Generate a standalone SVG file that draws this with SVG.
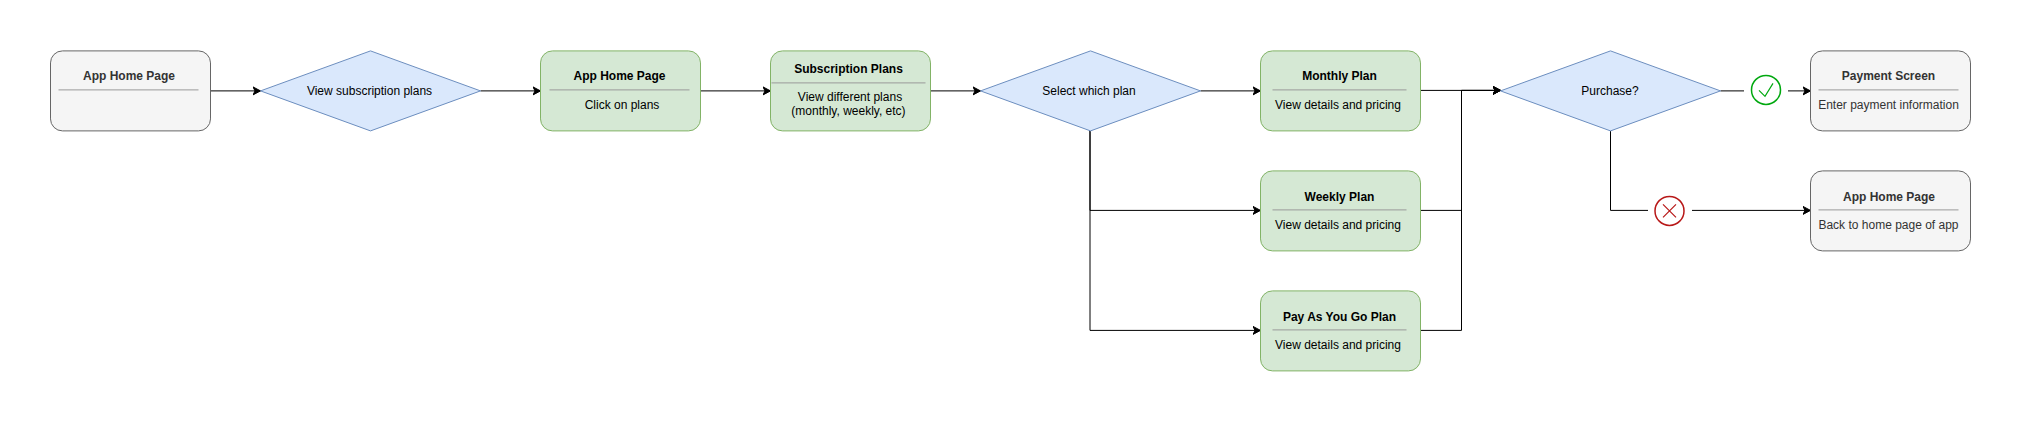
<svg xmlns="http://www.w3.org/2000/svg" width="2021" height="421" viewBox="0 0 2021 421">
<defs>
<marker id="arr" markerUnits="userSpaceOnUse" markerWidth="10" markerHeight="10" refX="8" refY="4.5" orient="auto"><path d="M0.5 0.5 L8 4.5 L0.5 8.5 L2.5 4.5 Z" fill="#000" stroke="#000" stroke-width="1"/></marker>
</defs>
<style>
text{font-family:"Liberation Sans",Arial,sans-serif;font-size:12px;text-anchor:middle;fill:#000}
.t{font-weight:bold}
.grey rect{fill:#f5f5f5;stroke:#666}
.grey text{fill:#333}
.green rect{fill:#d5e8d4;stroke:#82b366}
.dia polygon{fill:#dae8fc;stroke:#6c8ebf}
.sep{stroke:#999;fill:none}
.conn path{fill:none;stroke:#000;stroke-width:1}
.ok{fill:#fff;stroke:#00a80f;stroke-width:1.5}
.no{fill:#fff;stroke:#b81818;stroke-width:1.5}
</style>
<rect width="2021" height="421" fill="#fff"/>
<g transform="translate(0,0.4)">
<g class="conn" id="connectors">
<path d="M210.5 90.5H260.5" marker-end="url(#arr)"/>
<path d="M480.5 90.5H540.5" marker-end="url(#arr)"/>
<path d="M700.5 90.5H770.5" marker-end="url(#arr)"/>
<path d="M930.5 90.5H980.5" marker-end="url(#arr)"/>
<path d="M1200.5 90.5H1260.5" marker-end="url(#arr)"/>
<path d="M1090 130.5V210H1260.5" marker-end="url(#arr)"/>
<path d="M1090 130.5V330H1260.5" marker-end="url(#arr)"/>
<path d="M1420.5 90H1500.5" marker-end="url(#arr)"/>
<path d="M1420.5 210H1461.5V90H1500.5" marker-end="url(#arr)"/>
<path d="M1420.5 330H1461.5V90H1500.5" marker-end="url(#arr)"/>
<path d="M1720.5 90.5H1744"/>
<path d="M1788 90.5H1810.5" marker-end="url(#arr)"/>
<path d="M1610.5 130.5V210H1648"/>
<path d="M1692 210H1810.5" marker-end="url(#arr)"/>
</g>
<g id="n1" class="grey"><rect x="50.5" y="50.5" width="160" height="80" rx="12"/><path class="sep" d="M58.5 89.5H198.5"/><text class="t" x="129" y="80">App Home Page</text></g>
<g id="d1" class="dia"><polygon points="260.5,90.5 370.5,50.5 480.5,90.5 370.5,130.5"/><text x="369.5" y="94.5">View subscription plans</text></g>
<g id="n2" class="green"><rect x="540.5" y="50.5" width="160" height="80" rx="12"/><path class="sep" d="M549.5 89.5H689.5"/><text class="t" x="619.5" y="80">App Home Page</text><text x="622" y="108.5">Click on plans</text></g>
<g id="n3" class="green"><rect x="770.5" y="50.5" width="160" height="80" rx="12"/><path class="sep" d="M771.5 82.5H925.5"/><text class="t" x="848.5" y="73">Subscription Plans</text><text x="850" y="101">View different plans</text><text x="848.5" y="115">(monthly, weekly, etc)</text></g>
<g id="d2" class="dia"><polygon points="980.5,90.5 1090.5,50.5 1200.5,90.5 1090.5,130.5"/><text x="1089" y="94.5">Select which plan</text></g>
<g id="n4" class="green"><rect x="1260.5" y="50.5" width="160" height="80" rx="12"/><path class="sep" d="M1272.5 89.5H1406.5"/><text class="t" x="1339.5" y="80">Monthly Plan</text><text x="1338" y="108.5">View details and pricing</text></g>
<g id="n5" class="green"><rect x="1260.5" y="170.5" width="160" height="80" rx="12"/><path class="sep" d="M1272.5 209.5H1406.5"/><text class="t" x="1339.5" y="200.5">Weekly Plan</text><text x="1338" y="228.5">View details and pricing</text></g>
<g id="n6" class="green"><rect x="1260.5" y="290.5" width="160" height="80" rx="12"/><path class="sep" d="M1272.5 329.5H1406.5"/><text class="t" x="1339.5" y="320.5">Pay As You Go Plan</text><text x="1338" y="348.5">View details and pricing</text></g>
<g id="d3" class="dia"><polygon points="1500.5,90.5 1610.5,50.5 1720.5,90.5 1610.5,130.5"/><text x="1610" y="94.5">Purchase?</text></g>
<g id="yes"><circle class="ok" cx="1766" cy="89.5" r="14.5"/><path d="M1759 90L1765 96L1773 83" fill="none" stroke="#00a80f" stroke-width="1.2"/></g>
<g id="no"><circle class="no" cx="1669.5" cy="210.5" r="14.5"/><path d="M1663 204L1676 217M1676 204L1663 217" fill="none" stroke="#b81818" stroke-width="1.2"/></g>
<g id="n7" class="grey"><rect x="1810.5" y="50.5" width="160" height="80" rx="12"/><path class="sep" d="M1818.5 89.5H1958.5"/><text class="t" x="1888.5" y="80">Payment Screen</text><text x="1888.5" y="108.5">Enter payment information</text></g>
<g id="n8" class="grey"><rect x="1810.5" y="170.5" width="160" height="80" rx="12"/><path class="sep" d="M1818.5 209.5H1958.5"/><text class="t" x="1889" y="200.5">App Home Page</text><text x="1888.5" y="228.5">Back to home page of app</text></g>
</g>
</svg>
